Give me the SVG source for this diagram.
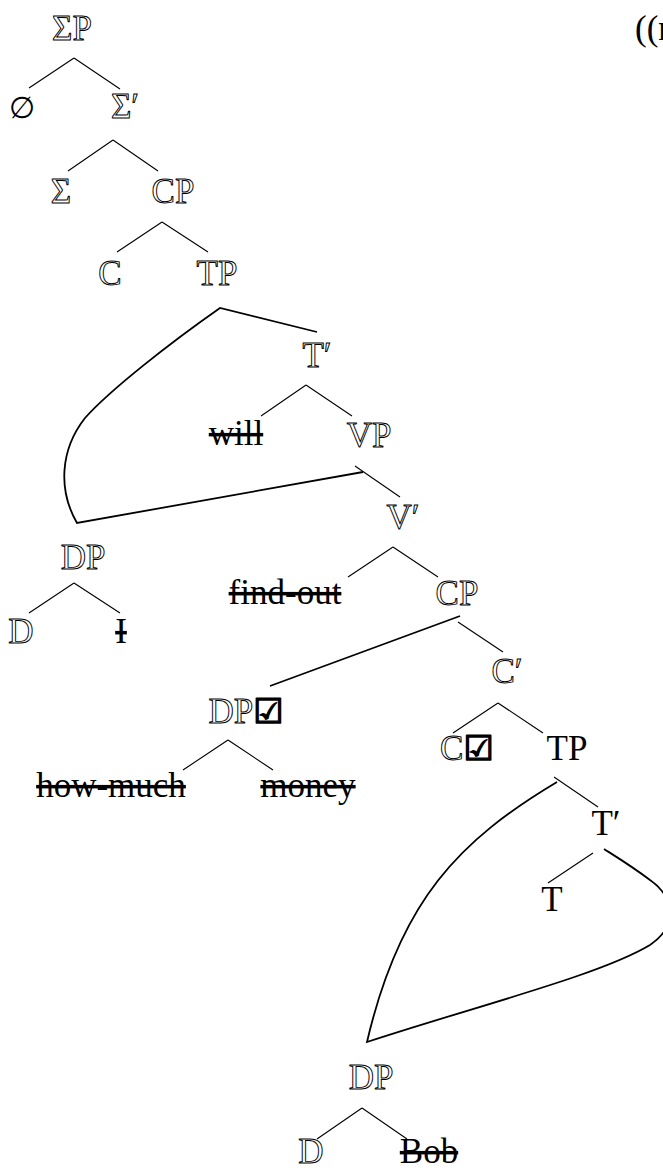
<svg xmlns="http://www.w3.org/2000/svg" width="663" height="1174" viewBox="0 0 663 1174">
<style>
text{font-family:"Liberation Serif","Times New Roman",serif;font-size:35px;text-anchor:middle}
.o{fill:none;stroke:#000;stroke-width:0.95}
.f{fill:#000}
.s{fill:#000;text-decoration:line-through;text-decoration-thickness:2px}
.chk{font-family:"DejaVu Sans",sans-serif;font-size:34px;font-weight:bold;fill:#000;stroke:#000;stroke-width:1.4}
.e{font-family:"DejaVu Serif",serif;font-size:30px;fill:#000}
.br{stroke:#000;stroke-width:1.1;fill:none}
.mv{stroke:#000;stroke-width:1.8;fill:none}
</style>
<rect width="663" height="1174" fill="#fff"/>
<g id="connectors">
<path class="br" d="M74,58L29,88M74,58L120,89"/>
<path class="br" d="M113,140L68,171M113,140L158,171"/>
<path class="br" d="M162,222L117,252M162,222L208,252"/>
<path class="br" d="M306,385L261,416M306,385L352,416"/>
<path class="br" d="M355,466L400,497"/>
<path class="br" d="M74,583L29,613M74,583L120,613"/>
<path class="br" d="M393,547L348,577M393,547L438,577"/>
<path class="br" d="M458,622L503,652"/>
<path class="br" d="M228,740L183,770M228,740L273,770"/>
<path class="br" d="M498,703L453,733M498,703L543,733"/>
<path class="br" d="M554,777L598,807"/>
<path class="br" d="M593,853L548,883"/>
<path class="br" d="M362,1108L317,1139M362,1108L407,1139"/>
<path class="mv" d="M317,332L220,308C170,343 110,390 85,418C60,450 58,490 77,523L363,472"/>
<path class="mv" d="M460,616L270,686"/>
<path class="mv" d="M557,782C460,840 400,900 367,1042C480,1005 600,975 650,945C680,925 672,895 650,880C630,865 615,856 604,849"/>
</g>
<g id="n-sigmaP"><text class="o" x="72" y="40">ΣP</text></g>
<g id="n-empty"><text class="e" x="22" y="118">∅</text></g>
<g id="n-sigmabar"><text class="o" x="125" y="118">Σ′</text></g>
<g id="n-sigma"><text class="o" x="61" y="203">Σ</text></g>
<g id="n-CP1"><text class="o" x="173" y="203">CP</text></g>
<g id="n-C1"><text class="o" x="110" y="285">C</text></g>
<g id="n-TP1"><text class="o" x="217" y="285">TP</text></g>
<g id="n-Tbar1"><text class="o" x="317" y="367">T′</text></g>
<g id="n-will"><text class="s" x="236" y="445">will</text></g>
<g id="n-VP"><text class="o" x="369" y="447">VP</text></g>
<g id="n-Vbar"><text class="o" x="403" y="529">V′</text></g>
<g id="n-DP1"><text class="o" x="83" y="569">DP</text></g>
<g id="n-D1"><text class="o" x="21" y="643">D</text></g>
<g id="n-I"><text class="s" x="121" y="643">I</text></g>
<g id="n-findout"><text class="s" x="285" y="604">find-out</text></g>
<g id="n-CP2"><text class="o" x="457" y="605">CP</text></g>
<g id="n-Cbar"><text class="o" x="507" y="683">C′</text></g>
<g id="n-DPchk"><text class="o" x="246" y="723">DP<tspan class="chk">☑</tspan></text></g>
<g id="n-howmuch"><text class="s" x="111" y="797">how-much</text></g>
<g id="n-money"><text class="s" x="308" y="797">money</text></g>
<g id="n-Cchk"><text class="o" x="467" y="760">C<tspan class="chk">☑</tspan></text></g>
<g id="n-TP2"><text class="f" x="567" y="760">TP</text></g>
<g id="n-Tbar2"><text class="f" x="606" y="835">T′</text></g>
<g id="n-T"><text class="f" x="552" y="911">T</text></g>
<g id="n-DP2"><text class="o" x="371" y="1089">DP</text></g>
<g id="n-D2"><text class="o" x="311" y="1163">D</text></g>
<g id="n-Bob"><text class="s" x="429" y="1163">Bob</text></g>
<g id="n-label"><text class="f" x="635" y="40" style="text-anchor:start">((r</text></g>
</svg>
